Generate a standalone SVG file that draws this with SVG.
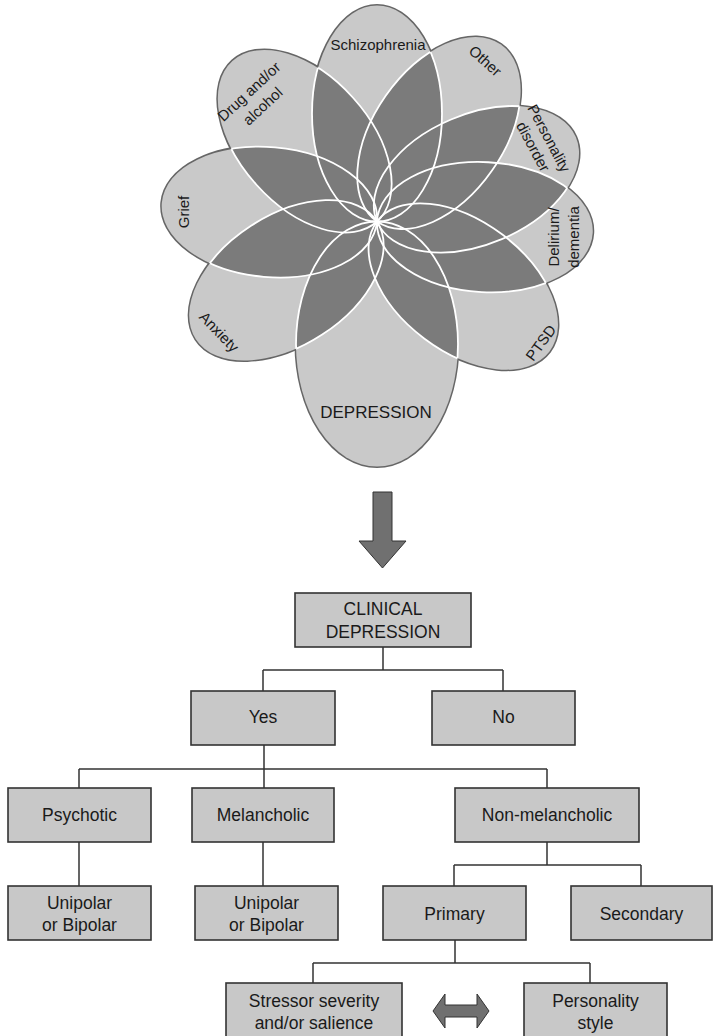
<svg xmlns="http://www.w3.org/2000/svg" width="714" height="1036" viewBox="0 0 714 1036">
<style>
.pet{fill:#c9c9c9}
.out{fill:none;stroke:#666;stroke-width:3}
.ov{fill:#7b7b7b}
.wl{fill:none;stroke:#fff;stroke-width:1.8}
.pl{font-family:"Liberation Sans",Arial,sans-serif;font-size:15px;fill:#1a1a1a;text-anchor:middle}
.box{fill:#c8c8c8;stroke:#333;stroke-width:1.6}
.bt{font-family:"Liberation Sans",Arial,sans-serif;font-size:17.5px;fill:#1a1a1a;text-anchor:middle}
.cn{fill:none;stroke:#333;stroke-width:1.5}
.arr{fill:#707070;stroke:#333;stroke-width:1}
</style>
<defs>
<ellipse id="e0" cx="0" cy="-108" rx="65" ry="108" transform="translate(377 221.5) rotate(0)"/>
<ellipse id="e1" cx="0" cy="-108" rx="65" ry="108" transform="translate(377 221.5) rotate(35)"/>
<ellipse id="e2" cx="0" cy="-108" rx="65" ry="108" transform="translate(377 221.5) rotate(67)"/>
<ellipse id="e3" cx="0" cy="-108" rx="65" ry="108" transform="translate(377 221.5) rotate(93)"/>
<ellipse id="e4" cx="0" cy="-108" rx="65" ry="108" transform="translate(377 221.5) rotate(127)"/>
<ellipse id="e5" cx="0" cy="-122.5" rx="81" ry="122.5" transform="translate(377 221.5) rotate(180)"/>
<ellipse id="e6" cx="0" cy="-108" rx="65" ry="108" transform="translate(377 221.5) rotate(237)"/>
<ellipse id="e7" cx="0" cy="-108" rx="65" ry="108" transform="translate(377 221.5) rotate(275)"/>
<ellipse id="e8" cx="0" cy="-108" rx="65" ry="108" transform="translate(377 221.5) rotate(318)"/>
<clipPath id="c0"><use href="#e0"/></clipPath>
<clipPath id="c1"><use href="#e1"/></clipPath>
<clipPath id="c2"><use href="#e2"/></clipPath>
<clipPath id="c3"><use href="#e3"/></clipPath>
<clipPath id="c4"><use href="#e4"/></clipPath>
<clipPath id="c5"><use href="#e5"/></clipPath>
<clipPath id="c6"><use href="#e6"/></clipPath>
<clipPath id="c7"><use href="#e7"/></clipPath>
<clipPath id="o0"><use href="#e1"/><use href="#e2"/><use href="#e3"/><use href="#e4"/><use href="#e5"/><use href="#e6"/><use href="#e7"/><use href="#e8"/></clipPath>
<clipPath id="o1"><use href="#e0"/><use href="#e2"/><use href="#e3"/><use href="#e4"/><use href="#e5"/><use href="#e6"/><use href="#e7"/><use href="#e8"/></clipPath>
<clipPath id="o2"><use href="#e0"/><use href="#e1"/><use href="#e3"/><use href="#e4"/><use href="#e5"/><use href="#e6"/><use href="#e7"/><use href="#e8"/></clipPath>
<clipPath id="o3"><use href="#e0"/><use href="#e1"/><use href="#e2"/><use href="#e4"/><use href="#e5"/><use href="#e6"/><use href="#e7"/><use href="#e8"/></clipPath>
<clipPath id="o4"><use href="#e0"/><use href="#e1"/><use href="#e2"/><use href="#e3"/><use href="#e5"/><use href="#e6"/><use href="#e7"/><use href="#e8"/></clipPath>
<clipPath id="o5"><use href="#e0"/><use href="#e1"/><use href="#e2"/><use href="#e3"/><use href="#e4"/><use href="#e6"/><use href="#e7"/><use href="#e8"/></clipPath>
<clipPath id="o6"><use href="#e0"/><use href="#e1"/><use href="#e2"/><use href="#e3"/><use href="#e4"/><use href="#e5"/><use href="#e7"/><use href="#e8"/></clipPath>
<clipPath id="o7"><use href="#e0"/><use href="#e1"/><use href="#e2"/><use href="#e3"/><use href="#e4"/><use href="#e5"/><use href="#e6"/><use href="#e8"/></clipPath>
<clipPath id="o8"><use href="#e0"/><use href="#e1"/><use href="#e2"/><use href="#e3"/><use href="#e4"/><use href="#e5"/><use href="#e6"/><use href="#e7"/></clipPath>
</defs>

<g id="flower">
<g class="out"><use href="#e0"/><use href="#e1"/><use href="#e2"/><use href="#e3"/><use href="#e4"/><use href="#e5"/><use href="#e6"/><use href="#e7"/><use href="#e8"/></g>
<g class="pet"><use href="#e0"/><use href="#e1"/><use href="#e2"/><use href="#e3"/><use href="#e4"/><use href="#e5"/><use href="#e6"/><use href="#e7"/><use href="#e8"/></g>
<g class="ov">
<g clip-path="url(#c0)"><use href="#e1"/><use href="#e2"/><use href="#e3"/><use href="#e4"/><use href="#e5"/><use href="#e6"/><use href="#e7"/><use href="#e8"/></g>
<g clip-path="url(#c1)"><use href="#e2"/><use href="#e3"/><use href="#e4"/><use href="#e5"/><use href="#e6"/><use href="#e7"/><use href="#e8"/></g>
<g clip-path="url(#c2)"><use href="#e3"/><use href="#e4"/><use href="#e5"/><use href="#e6"/><use href="#e7"/><use href="#e8"/></g>
<g clip-path="url(#c3)"><use href="#e4"/><use href="#e5"/><use href="#e6"/><use href="#e7"/><use href="#e8"/></g>
<g clip-path="url(#c4)"><use href="#e5"/><use href="#e6"/><use href="#e7"/><use href="#e8"/></g>
<g clip-path="url(#c5)"><use href="#e6"/><use href="#e7"/><use href="#e8"/></g>
<g clip-path="url(#c6)"><use href="#e7"/><use href="#e8"/></g>
<g clip-path="url(#c7)"><use href="#e8"/></g>
</g>
<g class="wl">
<use href="#e0" clip-path="url(#o0)"/><use href="#e1" clip-path="url(#o1)"/><use href="#e2" clip-path="url(#o2)"/>
<use href="#e3" clip-path="url(#o3)"/><use href="#e4" clip-path="url(#o4)"/><use href="#e5" clip-path="url(#o5)"/>
<use href="#e6" clip-path="url(#o6)"/><use href="#e7" clip-path="url(#o7)"/><use href="#e8" clip-path="url(#o8)"/>
</g>
</g>

<g id="petal-schizophrenia"><text class="pl" x="378" y="50">Schizophrenia</text></g>
<g id="petal-other"><text class="pl" transform="translate(485 61) rotate(42)" y="5">Other</text></g>
<g id="petal-personality"><text class="pl" transform="translate(540 143) rotate(62)"><tspan x="0" y="-5">Personality</tspan><tspan x="0" y="13">disorder</tspan></text></g>
<g id="petal-delirium"><text class="pl" transform="translate(564 237) rotate(-90)"><tspan x="0" y="-5">Delirium/</tspan><tspan x="0" y="15">dementia</tspan></text></g>
<g id="petal-ptsd"><text class="pl" transform="translate(541 343) rotate(-54)" y="5">PTSD</text></g>
<g id="petal-depression"><text class="pl" style="font-size:17px" x="376" y="418">DEPRESSION</text></g>
<g id="petal-anxiety"><text class="pl" transform="translate(219 332) rotate(46)" y="5">Anxiety</text></g>
<g id="petal-grief"><text class="pl" transform="translate(184 212) rotate(-90)" y="5">Grief</text></g>
<g id="petal-drug"><text class="pl" transform="translate(256 99) rotate(-43)"><tspan x="0" y="-5">Drug and/or</tspan><tspan x="0" y="15">alcohol</tspan></text></g>

<g id="big-arrow"><polygon class="arr" points="373,492 392,492 392,541 406,541 382.5,568 359,541 373,541"/></g>

<g id="connectors" class="cn">
<path d="M383,647 V670 M263,670 H503 M263,670 V691 M503,670 V691"/>
<path d="M264,745 V769 M79,769 H547 M79,769 V788 M264,769 V788 M547,769 V788"/>
<path d="M79,842 V886 M263,842 V886"/>
<path d="M547,842 V865 M454,865 H641 M454,865 V886 M641,865 V886"/>
<path d="M455,940 V963 M313,963 H590 M313,963 V983 M590,963 V983"/>
</g>

<g id="n-clinical"><rect class="box" x="295" y="593" width="176" height="54"/><text class="bt" x="383" y="615">CLINICAL</text><text class="bt" x="383" y="638">DEPRESSION</text></g>
<g id="n-yes"><rect class="box" x="191" y="691" width="144" height="54"/><text class="bt" x="263" y="723">Yes</text></g>
<g id="n-no"><rect class="box" x="432" y="691" width="143" height="54"/><text class="bt" x="503.5" y="723">No</text></g>
<g id="n-psychotic"><rect class="box" x="8" y="788" width="143" height="54"/><text class="bt" x="79.5" y="821">Psychotic</text></g>
<g id="n-melancholic"><rect class="box" x="192" y="788" width="142" height="54"/><text class="bt" x="263" y="821">Melancholic</text></g>
<g id="n-nonmel"><rect class="box" x="455" y="788" width="184" height="54"/><text class="bt" x="547" y="821">Non-melancholic</text></g>
<g id="n-unipolar1"><rect class="box" x="8" y="886" width="143" height="54"/><text class="bt" x="79.5" y="909">Unipolar</text><text class="bt" x="79.5" y="931">or Bipolar</text></g>
<g id="n-unipolar2"><rect class="box" x="195" y="886" width="143" height="54"/><text class="bt" x="266.5" y="909">Unipolar</text><text class="bt" x="266.5" y="931">or Bipolar</text></g>
<g id="n-primary"><rect class="box" x="383" y="886" width="143" height="54"/><text class="bt" x="454.5" y="920">Primary</text></g>
<g id="n-secondary"><rect class="box" x="571" y="886" width="141" height="54"/><text class="bt" x="641.5" y="920">Secondary</text></g>
<g id="n-stressor"><rect class="box" x="226" y="983" width="176" height="60"/><text class="bt" x="314" y="1007">Stressor severity</text><text class="bt" x="314" y="1029">and/or salience</text></g>
<g id="n-personality"><rect class="box" x="524" y="983" width="143" height="60"/><text class="bt" x="595.5" y="1007">Personality</text><text class="bt" x="595.5" y="1029">style</text></g>

<g id="double-arrow"><polygon class="arr" points="433,1011 445,994 445,1005 477,1005 477,994 489,1011 477,1028 477,1017 445,1017 445,1028"/></g>
</svg>
